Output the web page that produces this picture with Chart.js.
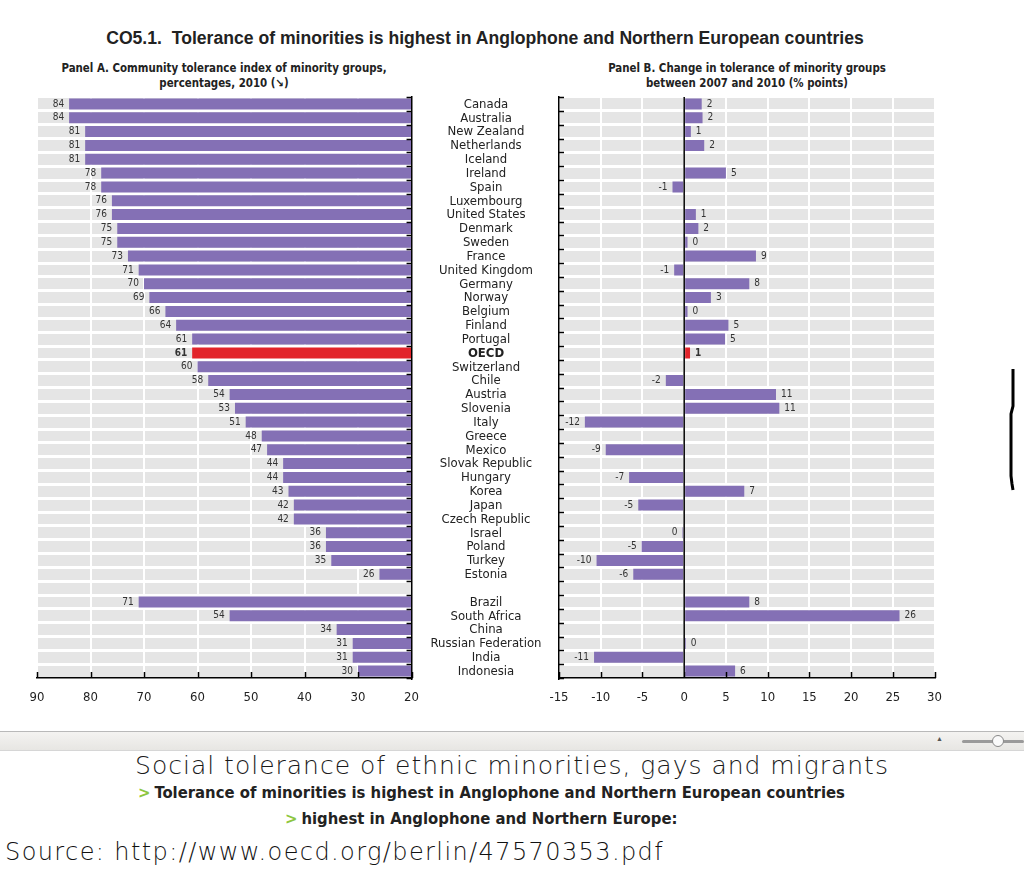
<!DOCTYPE html>
<html>
<head>
<meta charset="utf-8">
<script src="https://cdn.jsdelivr.net/npm/chart.js@4.4.0/dist/chart.umd.min.js"></script>
<style>
  body { margin: 0; width: 1024px; height: 882px; background: #fff; position: relative; overflow: hidden; font-family: "Liberation Sans", sans-serif; color: #222; }
  .abs { position: absolute; white-space: nowrap; }
  #title { left: 0; width: 970px; top: 28px; text-align: center; font: bold 17.6px "Liberation Sans", sans-serif; color: #222; }
  .sub { top: 61px; width: 340px; text-align: center; font: bold 11.4px "Liberation Sans Narrow", "DejaVu Sans Condensed", sans-serif; line-height: 15px; color: #222; }
  #subA { left: 54px; }
  #subB { left: 577px; }
  #chartA { left: 0; top: 90px; }
  #chartB { left: 413px; top: 90px; }
  #bar { left: 0; top: 731px; width: 1024px; height: 18px; background: linear-gradient(#f4f3f1, #e7e6e3); border-top: 1px solid #b9b9b9; border-bottom: 1px solid #d6d6d6; }
  #arrow { left: 936px; top: 735px; font-size: 7px; color: #555; }
  #track { left: 962px; top: 740px; width: 62px; height: 3px; background: #9a9a9a; border-radius: 2px; }
  #knob { left: 992px; top: 735px; width: 10px; height: 10px; border-radius: 50%; background: #fafafa; border: 1px solid #888; }
  #mark { left: 1002px; top: 366px; }
  #big { left: 0; width: 1024px; top: 751px; text-align: center; font: 25px "DejaVu Sans", sans-serif; font-weight: 200; letter-spacing: 1px; color: #1a1a1a; }
  .line { font: bold 16.5px "Liberation Sans Narrow", "DejaVu Sans Condensed", sans-serif; color: #222; }
  .line b { color: #8dc63f; font-weight: bold; margin-right: 4px; }
  #l1 { left: 138px; top: 783px; }
  #l2 { left: 285px; top: 809px; }
  #src { left: 5px; top: 838px; font: 24px "DejaVu Sans", sans-serif; font-weight: 200; letter-spacing: 1.4px; color: #111; }
</style>
</head>
<body>
<div id="title" class="abs">CO5.1.&nbsp; Tolerance of minorities is highest in Anglophone and Northern European countries</div>
<div id="subA" class="abs sub">Panel A. Community tolerance index of minority groups,<br>percentages, 2010 (&#x2198;)</div>
<div id="subB" class="abs sub">Panel B. Change in tolerance of minority groups<br>between 2007 and 2010 (% points)</div>
<canvas id="chartA" class="abs" width="431" height="620"></canvas>
<canvas id="chartB" class="abs" width="541" height="620"></canvas>
<div id="bar" class="abs"></div>
<div id="arrow" class="abs">&#9650;</div>
<div id="track" class="abs"></div>
<div id="knob" class="abs"></div>
<svg id="mark" class="abs" width="16" height="130"><path d="M11 3 L11 40 L9 48 L9 110 L10 118 L11 124" fill="none" stroke="#000" stroke-width="3"/></svg>
<div id="big" class="abs">Social tolerance of ethnic minorities, gays and migrants</div>
<div id="l1" class="abs line"><b>&gt;</b>Tolerance of minorities is highest in Anglophone and Northern European countries</div>
<div id="l2" class="abs line"><b>&gt;</b>highest in Anglophone and Northern Europe:</div>
<div id="src" class="abs">Source: http://www.oecd.org/berlin/47570353.pdf</div>

<script>
// rows, top to bottom ('' is the gap before the partner countries)
const countries = ['Canada', 'Australia', 'New Zealand', 'Netherlands', 'Iceland', 'Ireland', 'Spain',
  'Luxembourg', 'United States', 'Denmark', 'Sweden', 'France', 'United Kingdom', 'Germany', 'Norway',
  'Belgium', 'Finland', 'Portugal', 'OECD', 'Switzerland', 'Chile', 'Austria', 'Slovenia', 'Italy',
  'Greece', 'Mexico', 'Slovak Republic', 'Hungary', 'Korea', 'Japan', 'Czech Republic', 'Israel',
  'Poland', 'Turkey', 'Estonia', '', 'Brazil', 'South Africa', 'China', 'Russian Federation', 'India',
  'Indonesia'];

// Panel A: community tolerance index, % (2010)
const toleranceIndex2010 = [84, 84, 81, 81, 81, 78, 78, 76, 76, 75, 75, 73, 71, 70, 69, 66, 64, 61, 61, 60,
  58, 54, 53, 51, 48, 47, 44, 44, 43, 42, 42, 36, 36, 35, 26, null, 71, 54, 34, 31, 31, 30];

// Panel B: change 2007-2010, % points (null = no data)
const change2007to2010 = [2.1, 2.2, 0.8, 2.4, null, 5.0, -1.4, null, 1.4, 1.7, 0.4, 8.6, -1.2, 7.8, 3.2,
  0.4, 5.3, 4.9, 0.7, null, -2.2, 11.0, 11.4, -11.9, null, -9.4, null, -6.6, 7.2, -5.5, null, -0.2,
  -5.1, -10.5, -6.1, null, 7.8, 25.8, null, 0.2, -10.8, 6.1];

// axis ranges [min, max, step]
const panelARange = [20, 90, 10];
const panelBRange = [-15, 30, 5];

const NARROW = '"Liberation Sans Narrow", "DejaVu Sans Condensed", sans-serif';
const PURPLE = '#8470b5';
const RED = '#e2232a';
const BAND = '#e5e5e5';

// grey plot background, inward tick marks, zero line, value labels, country names
const decor = {
    id: 'decor',
    beforeDraw(chart) {
        const { ctx, chartArea: a } = chart;
        ctx.save();
        ctx.fillStyle = BAND;
        ctx.fillRect(a.left, a.top, a.right - a.left, a.bottom - a.top);
        ctx.restore();
    },
    afterDatasetsDraw(chart, args, opts) {
        const { ctx, chartArea: a, scales: { x, y } } = chart;
        const labels = chart.data.labels;
        ctx.save();
        ctx.strokeStyle = '#000';
        ctx.lineWidth = 1.5;
        ctx.beginPath();
        if (opts.zeroLine) {
            const zx = x.getPixelForValue(0);
            ctx.moveTo(zx, a.top);
            ctx.lineTo(zx, a.bottom);
        }
        const edge = opts.rowSide === 'right' ? a.right : a.left;
        const dir = opts.rowSide === 'right' ? -1 : 1;
        for (let i = 0; i <= labels.length; i++) {
            const yy = Math.round(y.getPixelForValue(i - 0.5)) + 0.5;
            ctx.moveTo(edge, yy);
            ctx.lineTo(edge + dir * 5, yy);
        }
        x.ticks.forEach((t, i) => {
            const xx = Math.round(x.getPixelForTick(i)) + 0.5;
            ctx.moveTo(xx, a.bottom);
            ctx.lineTo(xx, a.bottom - 6);
        });
        ctx.stroke();

        // value labels next to bar ends
        const vals = chart.data.datasets[0].data;
        ctx.fillStyle = '#333';
        ctx.textBaseline = 'middle';
        chart.getDatasetMeta(0).data.forEach((bar, i) => {
            const v = vals[i];
            if (v === null) return;
            ctx.font = (labels[i] === 'OECD' ? 'bold ' : '') + '10px ' + NARROW;
            const left = opts.labelsLeft || v < 0;
            ctx.textAlign = left ? 'right' : 'left';
            ctx.fillText(String(Math.round(v)).replace('-0', '0'), bar.x + (left ? -5 : 5), bar.y);
        });

        // country names centred between the two panels
        if (opts.names) {
            ctx.fillStyle = '#222';
            ctx.textAlign = 'center';
            labels.forEach((name, i) => {
                ctx.font = (name === 'OECD' ? 'bold ' : '') + '13px ' + NARROW;
                ctx.fillText(name, a.left / 2, y.getPixelForValue(i) + 0.5);
            });
        }
        ctx.restore();
    }
};

function makeChart(id, values, range, extra) {
    return new Chart(document.getElementById(id), {
        type: 'bar',
        data: {
            labels: countries,
            datasets: [{
                data: values,
                backgroundColor: ctx => countries[ctx.dataIndex] === 'OECD' ? RED : PURPLE,
                barPercentage: 1,
                categoryPercentage: 0.8
            }]
        },
        plugins: [decor],
        options: {
            indexAxis: 'y',
            responsive: false,
            animation: false,
            layout: { padding: extra.padding },
            scales: {
                x: {
                    min: range[0],
                    max: range[1],
                    reverse: extra.reverse,
                    ticks: { stepSize: range[2], padding: 12, color: '#222', font: { family: NARROW, size: 13 } },
                    grid: { color: '#fff', lineWidth: 2, drawTicks: false },
                    border: { color: '#000', width: 1.5, z: 1 },
                    afterFit: s => { s.height = 32; }
                },
                y: {
                    position: extra.yPos,
                    ticks: { display: false },
                    grid: { color: '#fff', lineWidth: 3, drawTicks: false },
                    border: { color: '#000', width: 1.5, z: 1 },
                    afterFit: s => { s.width = extra.yWidth; }
                }
            },
            plugins: {
                legend: { display: false },
                tooltip: { enabled: false },
                decor: extra.decor
            }
        }
    });
}

makeChart('chartA', toleranceIndex2010, panelARange, {
    reverse: true,
    yPos: 'right',
    yWidth: 0,
    padding: { left: 37, right: 8, top: 7, bottom: 0 },
    decor: { rowSide: 'right', labelsLeft: true }
});

makeChart('chartB', change2007to2010, panelBRange, {
    reverse: false,
    yPos: 'left',
    yWidth: 146,
    padding: { left: 0, right: 10, top: 7, bottom: 0 },
    decor: { rowSide: 'left', zeroLine: true, names: true }
});
</script>
</body>
</html>
